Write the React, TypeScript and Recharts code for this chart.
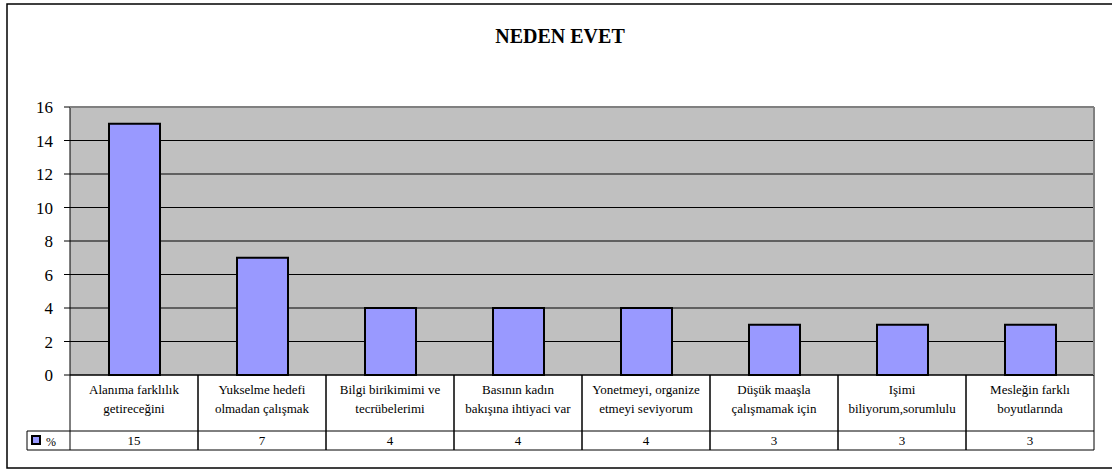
import React from 'react'
import { BarChart, Bar, XAxis, YAxis, CartesianGrid } from 'recharts'

const labelTop = [
  'Alanıma farklılık',
  'Yukselme hedefi',
  'Bilgi birikimimi ve',
  'Basının kadın',
  'Yonetmeyi, organize',
  'Düşük maaşla',
  'Işimi',
  'Mesleğin farklı',
]

const labelBottom = [
  'getireceğini',
  'olmadan çalışmak',
  'tecrübelerimi',
  'bakışına ihtiyaci var',
  'etmeyi seviyorum',
  'çalışmamak için',
  'biliyorum,sorumlulu',
  'boyutlarında',
]

const percent = [15, 7, 4, 4, 4, 3, 3, 3]

const yTicks = [0, 2, 4, 6, 8, 10, 12, 14, 16]

const seriesName = '%'
const title = 'NEDEN EVET'

const FONT = '"Liberation Serif", "Times New Roman", serif'
const BAND = 128
const serif = { fontFamily: FONT }

const data = labelTop.map((top, i) => ({
  key: String(i),
  top,
  bottom: labelBottom[i],
  value: percent[i],
}))

// category cell + value cell of the data table under the plot
function TableTick(props: any) {
  const { x, y, payload } = props
  const i = payload.index
  const row = data[i]
  const left = x - BAND / 2
  const right = x + BAND / 2
  return (
    <g>
      <text x={x} y={y + 19} textAnchor="middle" fontSize={13} style={serif} fill="#000">
        {row.top}
      </text>
      <text x={x} y={y + 38} textAnchor="middle" fontSize={13} style={serif} fill="#000">
        {row.bottom}
      </text>
      <text x={x} y={y + 70} textAnchor="middle" fontSize={13} style={serif} fill="#000">
        {row.value}
      </text>
      <line x1={left} y1={y} x2={left} y2={y + 75} stroke="#000" strokeWidth={1} />
      <line x1={right} y1={y} x2={right} y2={y + 75} stroke="#000" strokeWidth={1} />
      <line x1={left} y1={y + 56} x2={right} y2={y + 56} stroke="#000" strokeWidth={1} />
      <line x1={left} y1={y + 75} x2={right} y2={y + 75} stroke="#000" strokeWidth={1} />
    </g>
  )
}

export default function App() {
  return (
    <div style={{ position: 'absolute', left: 0, top: 0, width: 1112, height: 470, background: '#fff', fontFamily: FONT }}>
      <BarChart
        width={1112}
        height={470}
        data={data}
        margin={{ top: 107, right: 18, bottom: 19, left: 8 }}
        barSize={51}
        style={serif}
      >
        <CartesianGrid fill="#C0C0C0" stroke="#000" vertical={false} strokeOpacity={1} />
        <XAxis
          dataKey="key"
          interval={0}
          height={76}
          tickLine={false}
          tickSize={0}
          tickMargin={0}
          axisLine={{ stroke: '#000' }}
          tick={<TableTick />}
        />
        <YAxis
          domain={[0, 16]}
          ticks={yTicks}
          width={62}
          tickSize={6}
          tickMargin={11}
          axisLine={{ stroke: '#000' }}
          tickLine={{ stroke: '#000' }}
          tick={{ fill: '#000', fontSize: 17, style: serif }}
        />
        <Bar dataKey="value" name={seriesName} fill="#9999FF" stroke="#000" strokeWidth={2} isAnimationActive={false} />
      </BarChart>
      <svg
        width={1112}
        height={470}
        style={{ position: 'absolute', left: 0, top: 0, pointerEvents: 'none' }}
      >
        <rect x={7} y={4} width={1120} height={464} fill="none" stroke="#000" strokeWidth={1.5} />
        <text x={560} y={43} textAnchor="middle" fontSize={20} fontWeight="bold" style={serif} fill="#000">
          {title}
        </text>
        <line x1={70} y1={107} x2={1094} y2={107} stroke="#808080" strokeWidth={2} />
        <line x1={1094} y1={107} x2={1094} y2={375} stroke="#808080" strokeWidth={2} />
        <line x1={27} y1={431} x2={70} y2={431} stroke="#000" strokeWidth={1} />
        <line x1={27} y1={450} x2={70} y2={450} stroke="#000" strokeWidth={1} />
        <line x1={27} y1={431} x2={27} y2={450} stroke="#000" strokeWidth={1} />
        <rect x={32} y={436} width={8} height={8} fill="#9999FF" stroke="#000" strokeWidth={2} />
        <text x={46} y={446} fontSize={12} style={serif} fill="#000">
          {seriesName}
        </text>
      </svg>
    </div>
  )
}
